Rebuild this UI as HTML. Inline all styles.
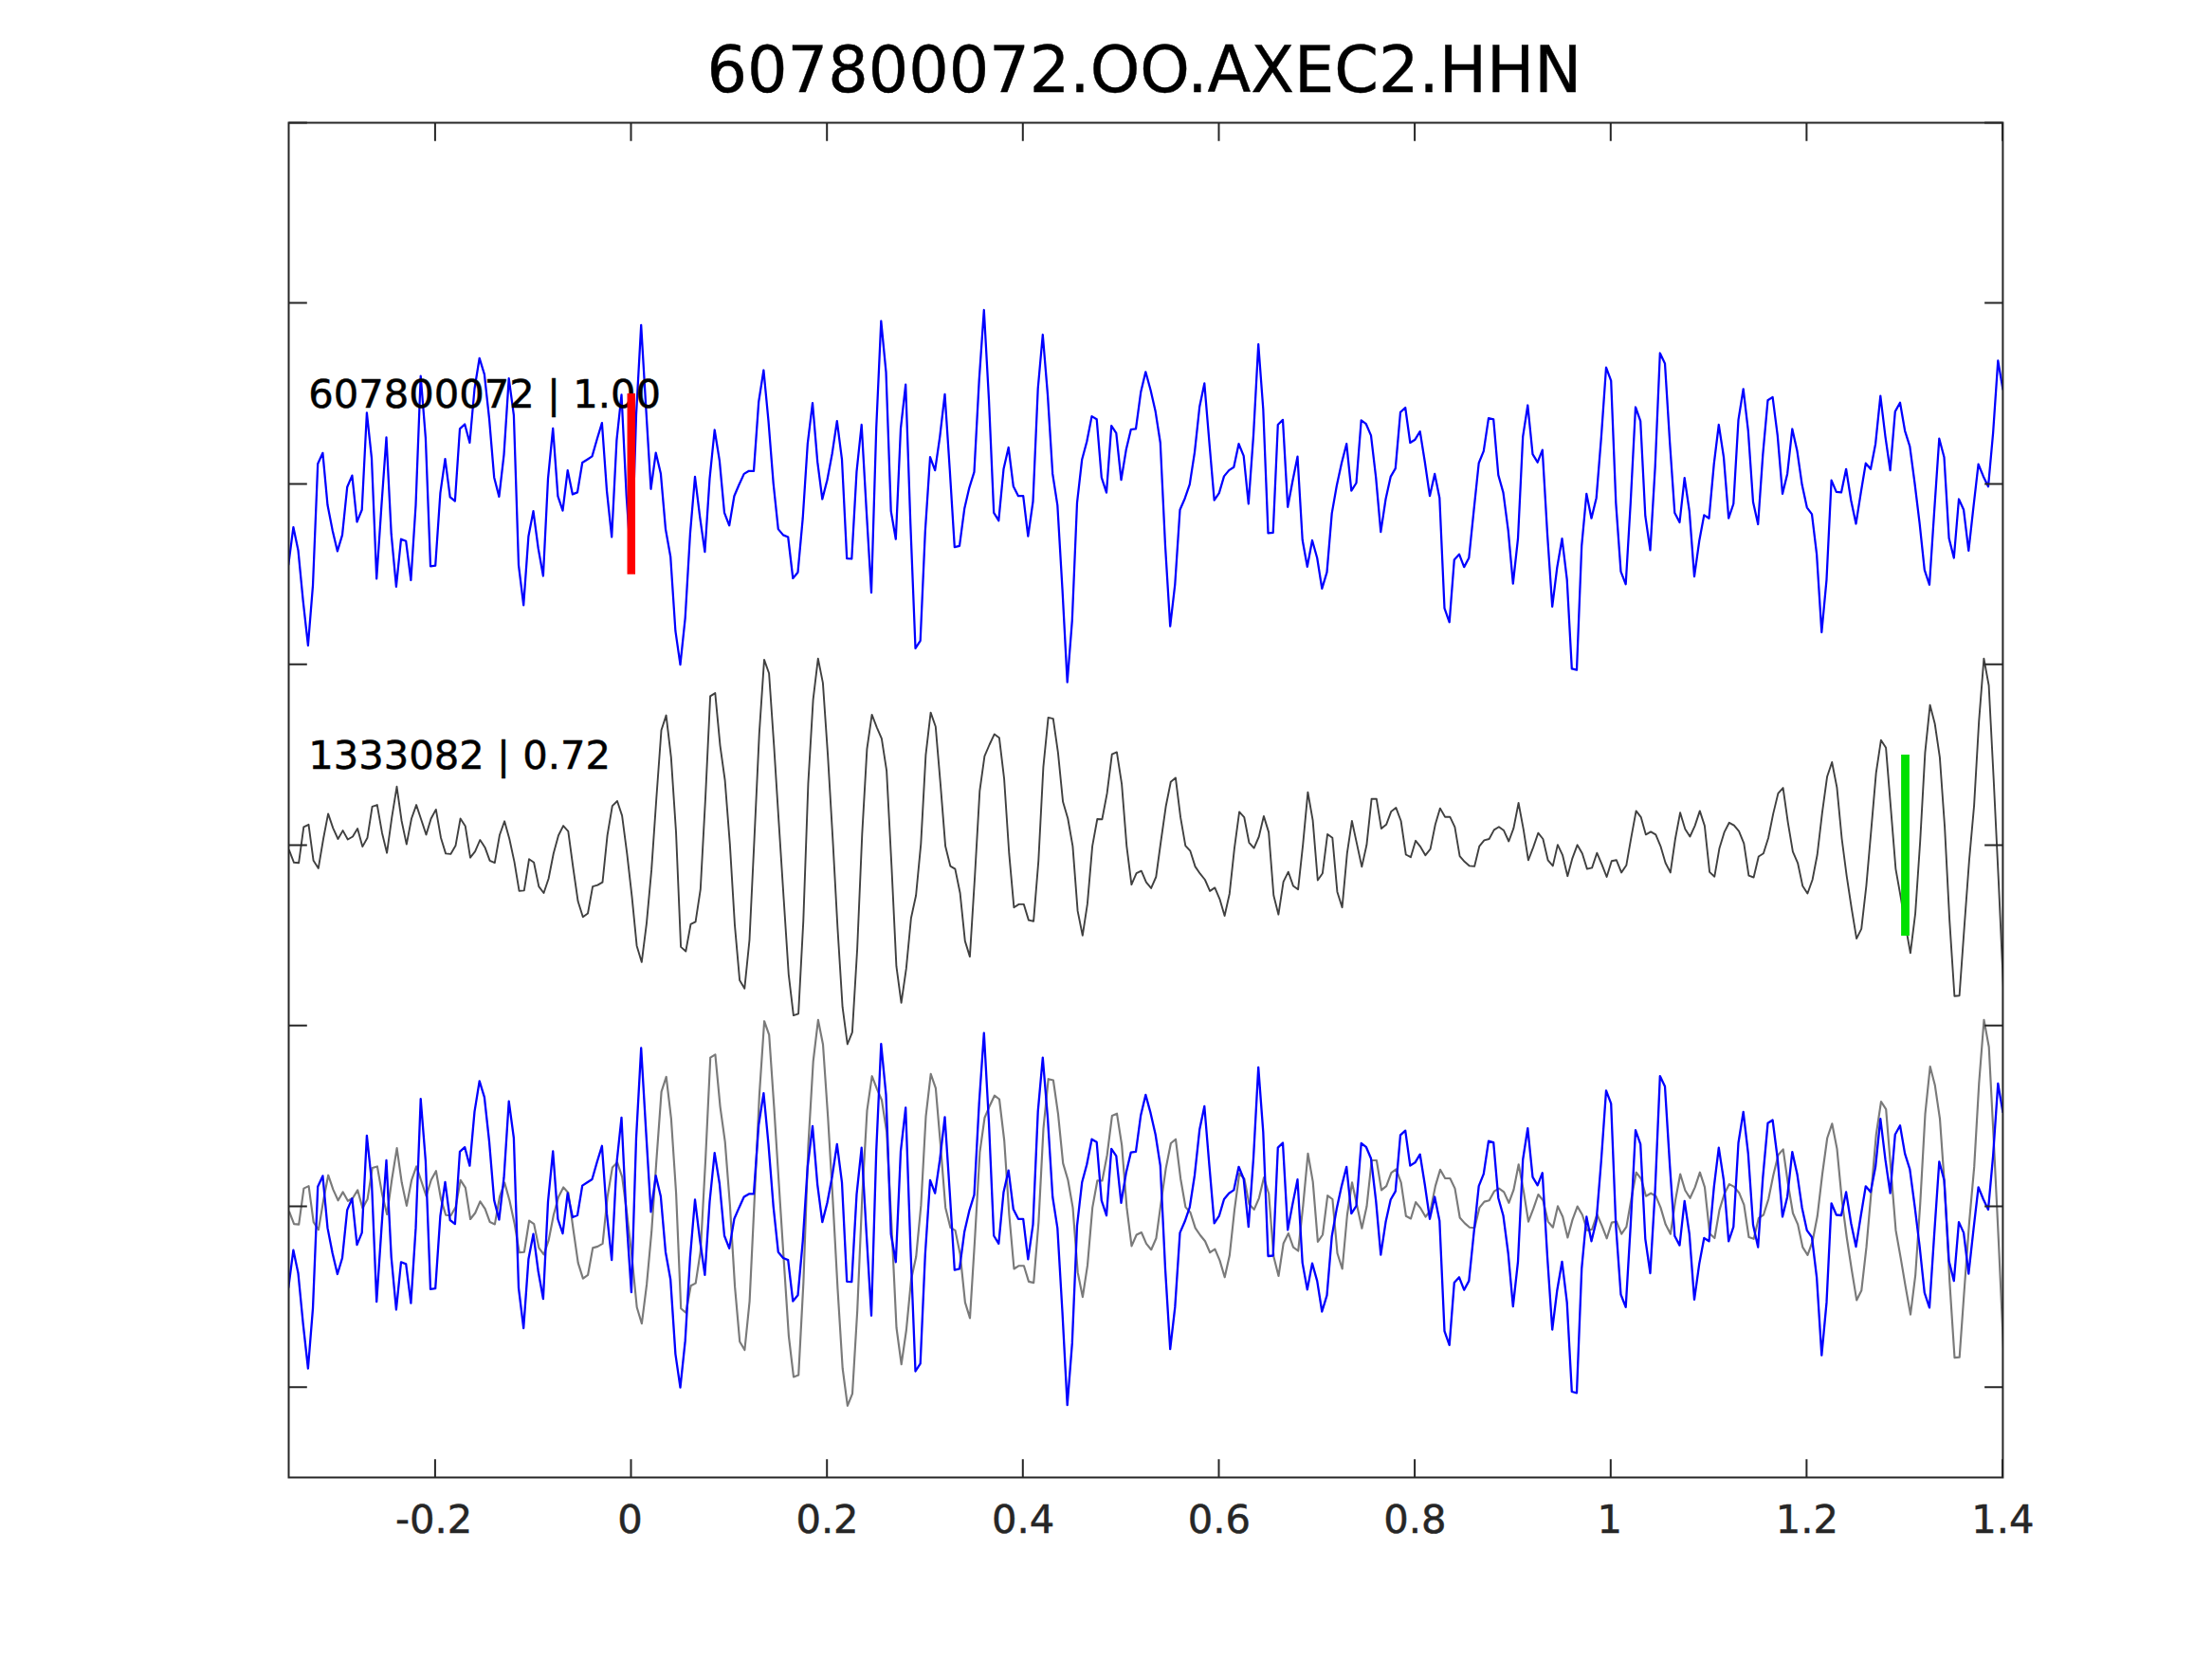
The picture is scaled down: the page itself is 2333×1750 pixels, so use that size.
<!DOCTYPE html>
<html lang="en"><head><meta charset="utf-8"><title>607800072.OO.AXEC2.HHN</title>
<style>
html,body{margin:0;padding:0;background:#fff;}
body{width:2333px;height:1750px;overflow:hidden;}
svg{display:block;}
text{font-family:"DejaVu Sans","Liberation Sans",sans-serif;}
.tk{font-size:41.67px;fill:#262626;stroke:#262626;stroke-width:0.5px;text-anchor:middle;}
.lb{font-size:41.67px;fill:#000;stroke:#000;stroke-width:0.5px;}
.ttl{font-size:66.88px;fill:#000;stroke:#000;stroke-width:0.4px;text-anchor:middle;}
.ax{stroke:#262626;stroke-width:2.0;fill:none;stroke-linecap:butt;}
.tr{fill:none;stroke-linejoin:round;stroke-linecap:butt;}
</style></head><body>
<svg width="2333" height="1750" viewBox="0 0 2333 1750">
<rect x="0" y="0" width="2333" height="1750" fill="#ffffff"/>
<clipPath id="c"><rect x="304.5" y="129.5" width="1807.9499999999998" height="1429.0"/></clipPath>

<g clip-path="url(#c)">
<polyline class="tr" stroke="#0000ff" stroke-width="2.25" points="304.2,596.1 309.4,556.1 314.5,580.4 319.7,634.1 324.9,680.9 330.0,617.6 335.2,489.2 340.4,477.8 345.5,532.8 350.7,559.4 355.9,581.4 361.0,564.4 366.2,513.8 371.4,501.6 376.5,550.5 381.7,537.8 386.9,435.3 392.0,483.4 397.2,610.5 402.4,532.8 407.5,461.4 412.7,563.2 417.9,618.9 423.0,568.7 428.2,570.8 433.4,612.0 438.5,532.8 443.7,396.6 448.9,461.9 454.0,597.3 459.2,596.6 464.4,520.1 469.5,484.2 474.7,524.4 479.9,528.5 485.0,452.3 490.2,447.5 495.4,467.0 500.5,410.0 505.7,377.8 510.9,394.8 516.0,441.6 521.2,503.7 526.4,523.9 531.5,479.6 536.7,399.1 541.9,437.8 547.0,596.1 552.2,638.4 557.4,565.7 562.5,539.1 567.7,578.4 572.9,607.5 578.0,504.9 583.2,451.8 588.4,523.4 593.5,538.6 598.7,496.1 603.9,521.4 609.0,519.4 614.2,488.0 619.4,484.7 624.5,481.4 629.7,463.2 634.9,446.2 640.0,517.6 645.2,566.5 650.4,464.4 655.5,416.3 660.7,522.7 665.9,600.6 671.0,437.8 676.2,342.9 681.4,431.5 686.5,515.8 691.7,477.6 696.9,499.4 702.0,558.1 707.2,587.2 712.4,665.7 717.5,701.1 722.7,651.8 727.9,563.2 733.0,502.9 738.2,545.4 743.4,582.2 748.5,504.9 753.7,453.5 758.9,485.9 764.0,540.9 769.2,554.3 774.4,523.2 779.5,511.3 784.7,499.9 789.9,496.8 795.0,496.8 800.2,423.9 805.4,390.5 810.5,444.2 815.7,510.0 820.8,558.1 826.0,564.4 831.2,566.5 836.3,610.0 841.5,603.7 846.7,546.7 851.8,468.2 857.0,425.2 862.2,487.2 867.3,526.5 872.5,506.2 877.7,478.4 882.8,444.2 888.0,484.7 893.2,589.2 898.3,589.5 903.5,497.3 908.7,448.0 913.8,537.8 919.0,625.2 924.2,451.8 929.3,338.6 934.5,392.3 939.7,539.1 944.8,568.7 950.0,451.8 955.2,405.7 960.3,553.0 965.5,683.9 970.7,675.8 975.8,560.6 981.0,482.2 986.2,496.1 991.3,460.6 996.5,415.8 1001.7,494.8 1006.8,577.1 1012.0,575.8 1017.2,536.6 1022.3,514.6 1027.5,497.8 1032.7,401.1 1037.8,327.0 1043.0,421.4 1048.2,540.9 1053.3,549.2 1058.5,494.8 1063.7,472.0 1068.8,513.0 1074.0,523.2 1079.2,523.2 1084.3,565.7 1089.5,529.0 1094.7,410.0 1099.8,353.0 1105.0,416.3 1110.2,499.9 1115.3,532.8 1120.5,621.4 1125.7,719.6 1130.8,654.3 1136.0,530.3 1141.2,484.7 1146.3,465.7 1151.5,439.1 1156.7,442.2 1161.8,503.7 1167.0,519.6 1172.2,449.2 1177.3,456.8 1182.5,506.2 1187.7,474.6 1192.8,453.0 1198.0,452.3 1203.2,413.8 1208.3,392.3 1213.5,411.3 1218.7,434.1 1223.8,467.0 1229.0,575.8 1234.2,660.6 1239.3,616.3 1244.5,537.8 1249.7,525.7 1254.8,510.8 1260.0,477.1 1265.2,429.0 1270.3,404.4 1275.5,467.0 1280.7,527.7 1285.8,520.1 1291.0,502.4 1296.2,496.1 1301.3,492.8 1306.5,468.2 1311.7,480.9 1316.8,531.5 1322.0,459.4 1327.2,363.2 1332.3,431.5 1337.5,562.4 1342.7,561.9 1347.8,448.0 1353.0,442.9 1358.2,534.8 1363.3,507.5 1368.5,481.6 1373.7,569.5 1378.8,597.8 1384.0,570.0 1389.2,588.5 1394.3,620.9 1399.5,603.7 1404.7,541.6 1409.8,512.5 1415.0,488.5 1420.2,468.2 1425.3,517.6 1430.5,509.5 1435.7,443.4 1440.8,447.2 1446.0,459.4 1451.2,503.7 1456.3,561.1 1461.5,526.5 1466.7,502.9 1471.8,494.1 1477.0,434.8 1482.2,430.0 1487.3,467.0 1492.5,463.7 1497.7,455.1 1502.8,487.2 1508.0,523.2 1513.2,499.9 1518.3,525.2 1523.5,641.6 1528.7,656.3 1533.8,590.5 1539.0,584.7 1544.2,598.1 1549.3,588.5 1554.5,537.8 1559.7,488.5 1564.8,475.8 1570.0,441.1 1575.2,442.4 1580.3,501.1 1585.5,519.6 1590.7,559.4 1595.8,615.6 1601.0,568.2 1606.2,460.6 1611.3,427.5 1616.5,479.1 1621.7,487.7 1626.8,474.6 1632.0,563.2 1637.2,639.9 1642.3,598.6 1647.5,568.2 1652.7,611.3 1657.8,705.4 1663.0,706.7 1668.2,575.8 1673.3,520.9 1678.5,546.7 1683.7,525.2 1688.8,461.9 1694.0,387.7 1699.2,401.6 1704.3,530.3 1709.5,602.9 1714.7,616.3 1719.8,530.3 1725.0,429.5 1730.2,444.2 1735.3,544.2 1740.5,580.4 1745.7,492.3 1750.8,372.5 1756.0,383.4 1761.2,467.0 1766.3,541.1 1771.5,551.0 1776.7,504.2 1781.8,539.1 1787.0,608.2 1792.2,570.8 1797.3,543.4 1802.5,546.7 1807.7,489.7 1812.8,448.0 1818.0,482.2 1823.2,546.7 1828.3,531.5 1833.5,442.9 1838.7,410.3 1843.8,454.3 1849.0,529.5 1854.2,553.0 1859.3,479.6 1864.5,422.2 1869.6,418.9 1874.8,459.4 1880.0,520.9 1885.1,499.9 1890.3,452.5 1895.5,475.8 1900.6,511.3 1905.8,535.3 1911.0,542.4 1916.1,584.7 1921.3,667.0 1926.5,611.3 1931.6,506.7 1936.8,518.9 1942.0,519.4 1947.1,494.8 1952.3,527.7 1957.5,552.5 1962.6,520.1 1967.8,488.7 1973.0,494.8 1978.1,468.2 1983.3,417.6 1988.5,460.6 1993.6,496.1 1998.8,434.1 2004.0,424.7 2009.1,454.3 2014.3,470.8 2019.5,510.0 2024.6,551.8 2029.8,601.1 2035.0,616.8 2040.1,539.1 2045.3,462.7 2050.5,482.2 2055.6,567.7 2060.8,588.5 2066.0,526.5 2071.1,537.8 2076.3,580.9 2081.5,534.1 2086.6,489.7 2091.8,502.4 2097.0,513.3 2102.1,456.8 2107.3,380.4 2112.5,411.3"/>
<polyline class="tr" stroke="#404040" stroke-width="1.9" points="304.8,896.4 310.0,909.8 315.1,910.3 320.3,872.3 325.5,869.8 330.6,907.8 335.8,915.9 341.0,885.0 346.1,858.4 351.3,873.6 356.5,885.0 361.6,876.1 366.8,885.5 372.0,882.5 377.1,874.1 382.3,893.1 387.5,883.7 392.6,850.8 397.8,849.1 403.0,878.7 408.1,899.7 413.3,862.2 418.5,829.8 423.6,866.0 428.8,890.6 434.0,863.5 439.1,849.1 444.3,864.7 449.5,880.4 454.6,863.5 459.8,853.9 465.0,883.7 470.1,900.4 475.3,900.9 480.5,892.1 485.6,863.5 490.8,871.6 496.0,904.7 501.1,898.2 506.3,886.0 511.5,893.9 516.6,907.8 521.8,910.1 527.0,880.7 532.1,866.3 537.3,885.0 542.5,909.1 547.6,939.9 552.8,939.4 558.0,906.3 563.1,909.8 568.3,935.1 573.5,942.0 578.6,926.8 583.8,900.2 589.0,881.2 594.1,871.1 599.3,876.9 604.5,915.4 609.6,950.8 614.8,967.3 620.0,963.5 625.1,935.1 630.3,933.6 635.5,930.6 640.6,881.2 645.8,850.1 651.0,845.0 656.1,860.4 661.3,900.2 666.5,945.8 671.6,997.7 676.8,1014.9 682.0,973.6 687.1,917.9 692.3,842.0 697.5,770.3 702.6,754.6 707.8,798.9 713.0,877.4 718.1,998.9 723.3,1003.5 728.5,974.9 733.6,972.3 738.8,938.2 744.0,842.0 749.1,734.4 754.3,731.1 759.5,786.3 764.6,823.0 769.8,890.1 775.0,976.1 780.1,1033.9 785.3,1042.7 790.5,991.3 795.6,885.0 800.8,773.6 806.0,695.9 811.1,710.3 816.3,786.3 821.4,867.3 826.6,948.3 831.8,1028.0 836.9,1071.1 842.1,1069.3 847.3,971.1 852.4,826.8 857.6,738.2 862.8,694.6 867.9,720.4 873.1,796.4 878.3,885.0 883.4,978.7 888.6,1062.2 893.8,1101.5 898.9,1088.8 904.1,1001.5 909.3,879.9 914.4,790.1 919.6,753.9 924.8,767.3 929.9,779.2 935.1,812.8 940.3,912.8 945.4,1019.2 950.6,1057.9 955.8,1021.7 960.9,968.5 966.1,944.5 971.3,890.1 976.4,796.4 981.6,751.6 986.8,766.5 991.9,826.8 997.1,892.6 1002.3,913.6 1007.4,916.6 1012.6,942.0 1017.8,992.6 1022.9,1009.1 1028.1,925.5 1033.3,834.4 1038.4,797.7 1043.6,785.5 1048.8,774.4 1053.9,778.2 1059.1,821.7 1064.3,900.2 1069.4,957.2 1074.6,953.9 1079.8,953.9 1084.9,970.6 1090.1,971.8 1095.3,907.8 1100.4,809.1 1105.6,756.9 1110.8,758.2 1115.9,793.9 1121.1,845.8 1126.3,863.5 1131.4,892.6 1136.6,960.9 1141.8,986.8 1146.9,953.4 1152.1,892.6 1157.3,864.0 1162.4,864.2 1167.6,836.9 1172.8,795.6 1177.9,793.4 1183.1,826.8 1188.3,892.6 1193.4,933.1 1198.6,921.2 1203.8,918.7 1208.9,930.6 1214.1,936.9 1219.3,925.0 1224.4,887.5 1229.6,850.8 1234.8,824.7 1239.9,820.4 1245.1,862.2 1250.3,892.1 1255.4,897.7 1260.6,914.1 1265.8,921.7 1270.9,928.0 1276.1,939.9 1281.3,936.4 1286.4,948.3 1291.6,966.0 1296.8,942.7 1301.9,895.1 1307.1,856.4 1312.3,862.2 1317.4,888.8 1322.6,894.6 1327.8,882.5 1332.9,860.9 1338.1,877.9 1343.3,944.5 1348.4,964.7 1353.6,930.1 1358.8,919.7 1363.9,934.4 1369.1,938.2 1374.3,890.1 1379.4,835.6 1384.6,865.3 1389.8,928.5 1394.9,921.2 1400.1,879.9 1405.3,883.7 1410.4,940.7 1415.6,957.2 1420.8,900.2 1425.9,866.0 1431.1,890.1 1436.3,914.4 1441.4,891.3 1446.6,842.7 1451.8,842.7 1456.9,874.1 1462.1,869.8 1467.3,855.9 1472.4,852.1 1477.6,866.0 1482.8,901.5 1487.9,904.2 1493.1,886.8 1498.3,893.4 1503.4,902.2 1508.6,895.6 1513.8,869.8 1518.9,852.6 1524.1,861.7 1529.3,861.7 1534.4,872.3 1539.6,903.2 1544.8,909.1 1549.9,913.4 1555.1,913.9 1560.3,892.6 1565.4,886.3 1570.6,885.0 1575.8,875.4 1580.9,872.3 1586.1,876.1 1591.3,887.5 1596.4,873.6 1601.6,847.0 1606.8,874.9 1611.9,907.3 1617.1,893.9 1622.3,878.7 1627.4,885.0 1632.6,907.3 1637.8,913.4 1642.9,891.1 1648.1,902.2 1653.3,924.2 1658.4,905.3 1663.6,891.3 1668.8,900.2 1673.9,916.6 1679.1,915.4 1684.3,899.7 1689.4,911.6 1694.6,925.0 1699.8,908.3 1704.9,907.3 1710.1,920.4 1715.3,912.8 1720.4,883.7 1725.6,855.4 1730.8,862.2 1735.9,880.4 1741.1,877.4 1746.3,880.4 1751.4,892.6 1756.6,910.3 1761.8,920.4 1766.9,885.0 1772.1,857.2 1777.3,874.4 1782.4,882.5 1787.6,871.1 1792.8,855.4 1797.9,871.1 1803.1,919.9 1808.3,924.7 1813.4,895.1 1818.6,877.9 1823.8,867.8 1828.9,870.6 1834.1,876.9 1839.3,889.6 1844.4,923.7 1849.6,925.5 1854.8,903.5 1859.9,900.2 1865.1,883.7 1870.2,858.4 1875.4,836.9 1880.6,831.1 1885.7,867.3 1890.9,898.4 1896.1,910.3 1901.2,934.4 1906.4,942.5 1911.6,928.0 1916.7,901.5 1921.9,857.2 1927.1,819.2 1932.2,804.0 1937.4,830.6 1942.6,885.0 1947.7,924.2 1952.9,958.4 1958.1,990.1 1963.2,979.9 1968.4,934.4 1973.6,874.9 1978.7,815.4 1983.9,780.7 1989.1,788.8 1994.2,852.1 1999.4,916.6 2004.6,945.8 2009.7,976.1 2014.9,1005.3 2020.1,963.5 2025.2,887.5 2030.4,793.9 2035.6,743.7 2040.7,763.5 2045.9,798.9 2051.1,872.3 2056.2,971.1 2061.4,1050.8 2066.6,1050.3 2071.7,978.7 2076.9,907.8 2082.1,849.6 2087.2,760.9 2092.4,694.6 2097.6,723.0 2102.7,821.7 2107.9,929.3 2113.1,1044.5"/>
<polyline class="tr" stroke="#7a7a7a" stroke-width="2.15" points="304.9,1277.7 310.1,1291.1 315.2,1291.6 320.4,1253.6 325.6,1251.1 330.7,1289.1 335.9,1297.2 341.1,1266.3 346.2,1239.7 351.4,1254.9 356.6,1266.3 361.7,1257.4 366.9,1266.8 372.1,1263.8 377.2,1255.4 382.4,1274.4 387.6,1265.0 392.7,1232.1 397.9,1230.4 403.1,1260.0 408.2,1281.0 413.4,1243.5 418.6,1211.1 423.7,1247.3 428.9,1271.9 434.1,1244.8 439.2,1230.4 444.4,1246.0 449.6,1261.7 454.7,1244.8 459.9,1235.2 465.1,1265.0 470.2,1281.7 475.4,1282.2 480.6,1273.4 485.7,1244.8 490.9,1252.9 496.1,1286.0 501.2,1279.5 506.4,1267.3 511.6,1275.2 516.7,1289.1 521.9,1291.4 527.1,1262.0 532.2,1247.6 537.4,1266.3 542.6,1290.4 547.7,1321.2 552.9,1320.7 558.1,1287.6 563.2,1291.1 568.4,1316.4 573.6,1323.3 578.7,1308.1 583.9,1281.5 589.1,1262.5 594.2,1252.4 599.4,1258.2 604.6,1296.7 609.7,1332.1 614.9,1348.6 620.1,1344.8 625.2,1316.4 630.4,1314.9 635.6,1311.9 640.7,1262.5 645.9,1231.4 651.1,1226.3 656.2,1241.7 661.4,1281.5 666.6,1327.1 671.7,1379.0 676.9,1396.2 682.1,1354.9 687.2,1299.2 692.4,1223.3 697.6,1151.6 702.7,1135.9 707.9,1180.2 713.1,1258.7 718.2,1380.2 723.4,1384.8 728.6,1356.2 733.7,1353.6 738.9,1319.5 744.1,1223.3 749.2,1115.7 754.4,1112.4 759.6,1167.6 764.7,1204.3 769.9,1271.4 775.1,1357.4 780.2,1415.2 785.4,1424.0 790.6,1372.6 795.7,1266.3 800.9,1154.9 806.1,1077.2 811.2,1091.6 816.4,1167.6 821.5,1248.6 826.7,1329.6 831.9,1409.3 837.0,1452.4 842.2,1450.6 847.4,1352.4 852.5,1208.1 857.7,1119.5 862.9,1075.9 868.0,1101.7 873.2,1177.7 878.4,1266.3 883.5,1360.0 888.7,1443.5 893.9,1482.8 899.0,1470.1 904.2,1382.8 909.4,1261.2 914.5,1171.4 919.7,1135.2 924.9,1148.6 930.0,1160.5 935.2,1194.1 940.4,1294.1 945.5,1400.5 950.7,1439.2 955.9,1403.0 961.0,1349.8 966.2,1325.8 971.4,1271.4 976.5,1177.7 981.7,1132.9 986.9,1147.8 992.0,1208.1 997.2,1273.9 1002.4,1294.9 1007.5,1297.9 1012.7,1323.3 1017.9,1373.9 1023.0,1390.4 1028.2,1306.8 1033.4,1215.7 1038.5,1179.0 1043.7,1166.8 1048.9,1155.7 1054.0,1159.5 1059.2,1203.0 1064.4,1281.5 1069.5,1338.5 1074.7,1335.2 1079.9,1335.2 1085.0,1351.9 1090.2,1353.1 1095.4,1289.1 1100.5,1190.4 1105.7,1138.2 1110.9,1139.5 1116.0,1175.2 1121.2,1227.1 1126.4,1244.8 1131.5,1273.9 1136.7,1342.2 1141.9,1368.1 1147.0,1334.7 1152.2,1273.9 1157.4,1245.3 1162.5,1245.5 1167.7,1218.2 1172.9,1176.9 1178.0,1174.7 1183.2,1208.1 1188.4,1273.9 1193.5,1314.4 1198.7,1302.5 1203.9,1300.0 1209.0,1311.9 1214.2,1318.2 1219.4,1306.3 1224.5,1268.8 1229.7,1232.1 1234.9,1206.0 1240.0,1201.7 1245.2,1243.5 1250.4,1273.4 1255.5,1279.0 1260.7,1295.4 1265.9,1303.0 1271.0,1309.3 1276.2,1321.2 1281.4,1317.7 1286.5,1329.6 1291.7,1347.3 1296.9,1324.0 1302.0,1276.4 1307.2,1237.7 1312.4,1243.5 1317.5,1270.1 1322.7,1275.9 1327.9,1263.8 1333.0,1242.2 1338.2,1259.2 1343.4,1325.8 1348.5,1346.0 1353.7,1311.4 1358.9,1301.0 1364.0,1315.7 1369.2,1319.5 1374.4,1271.4 1379.5,1216.9 1384.7,1246.6 1389.9,1309.8 1395.0,1302.5 1400.2,1261.2 1405.4,1265.0 1410.5,1322.0 1415.7,1338.5 1420.9,1281.5 1426.0,1247.3 1431.2,1271.4 1436.4,1295.7 1441.5,1272.6 1446.7,1224.0 1451.9,1224.0 1457.0,1255.4 1462.2,1251.1 1467.4,1237.2 1472.5,1233.4 1477.7,1247.3 1482.9,1282.8 1488.0,1285.5 1493.2,1268.1 1498.4,1274.7 1503.5,1283.5 1508.7,1276.9 1513.9,1251.1 1519.0,1233.9 1524.2,1243.0 1529.4,1243.0 1534.5,1253.6 1539.7,1284.5 1544.9,1290.4 1550.0,1294.7 1555.2,1295.2 1560.4,1273.9 1565.5,1267.6 1570.7,1266.3 1575.9,1256.7 1581.0,1253.6 1586.2,1257.4 1591.4,1268.8 1596.5,1254.9 1601.7,1228.3 1606.9,1256.2 1612.0,1288.6 1617.2,1275.2 1622.4,1260.0 1627.5,1266.3 1632.7,1288.6 1637.9,1294.7 1643.0,1272.4 1648.2,1283.5 1653.4,1305.5 1658.5,1286.6 1663.7,1272.6 1668.9,1281.5 1674.0,1297.9 1679.2,1296.7 1684.4,1281.0 1689.5,1292.9 1694.7,1306.3 1699.9,1289.6 1705.0,1288.6 1710.2,1301.7 1715.4,1294.1 1720.5,1265.0 1725.7,1236.7 1730.9,1243.5 1736.0,1261.7 1741.2,1258.7 1746.4,1261.7 1751.5,1273.9 1756.7,1291.6 1761.9,1301.7 1767.0,1266.3 1772.2,1238.5 1777.4,1255.7 1782.5,1263.8 1787.7,1252.4 1792.9,1236.7 1798.0,1252.4 1803.2,1301.2 1808.4,1306.0 1813.5,1276.4 1818.7,1259.2 1823.9,1249.1 1829.0,1251.9 1834.2,1258.2 1839.4,1270.9 1844.5,1305.0 1849.7,1306.8 1854.9,1284.8 1860.0,1281.5 1865.2,1265.0 1870.3,1239.7 1875.5,1218.2 1880.7,1212.4 1885.8,1248.6 1891.0,1279.7 1896.2,1291.6 1901.3,1315.7 1906.5,1323.8 1911.7,1309.3 1916.8,1282.8 1922.0,1238.5 1927.2,1200.5 1932.3,1185.3 1937.5,1211.9 1942.7,1266.3 1947.8,1305.5 1953.0,1339.7 1958.2,1371.4 1963.3,1361.2 1968.5,1315.7 1973.7,1256.2 1978.8,1196.7 1984.0,1162.0 1989.2,1170.1 1994.3,1233.4 1999.5,1297.9 2004.7,1327.1 2009.8,1357.4 2015.0,1386.6 2020.2,1344.8 2025.3,1268.8 2030.5,1175.2 2035.7,1125.0 2040.8,1144.8 2046.0,1180.2 2051.2,1253.6 2056.3,1352.4 2061.5,1432.1 2066.7,1431.6 2071.8,1360.0 2077.0,1289.1 2082.2,1230.9 2087.3,1142.2 2092.5,1075.9 2097.7,1104.3 2102.8,1203.0 2108.0,1310.6 2113.2,1425.8"/>
<polyline class="tr" stroke="#0000ff" stroke-width="2.3" points="304.2,1358.7 309.4,1318.7 314.5,1343.0 319.7,1396.7 324.9,1443.5 330.0,1380.2 335.2,1251.8 340.4,1240.4 345.5,1295.4 350.7,1322.0 355.9,1344.0 361.0,1327.0 366.2,1276.4 371.4,1264.2 376.5,1313.1 381.7,1300.4 386.9,1197.9 392.0,1246.0 397.2,1373.1 402.4,1295.4 407.5,1224.0 412.7,1325.8 417.9,1381.5 423.0,1331.3 428.2,1333.4 433.4,1374.6 438.5,1295.4 443.7,1159.2 448.9,1224.5 454.0,1359.9 459.2,1359.2 464.4,1282.7 469.5,1246.8 474.7,1287.0 479.9,1291.1 485.0,1214.9 490.2,1210.1 495.4,1229.6 500.5,1172.6 505.7,1140.4 510.9,1157.4 516.0,1204.2 521.2,1266.3 526.4,1286.5 531.5,1242.2 536.7,1161.7 541.9,1200.4 547.0,1358.7 552.2,1401.0 557.4,1328.3 562.5,1301.7 567.7,1341.0 572.9,1370.1 578.0,1267.5 583.2,1214.4 588.4,1286.0 593.5,1301.2 598.7,1258.7 603.9,1284.0 609.0,1282.0 614.2,1250.6 619.4,1247.3 624.5,1244.0 629.7,1225.8 634.9,1208.8 640.0,1280.2 645.2,1329.1 650.4,1227.0 655.5,1178.9 660.7,1285.3 665.9,1363.2 671.0,1200.4 676.2,1105.5 681.4,1194.1 686.5,1278.4 691.7,1240.2 696.9,1262.0 702.0,1320.7 707.2,1349.8 712.4,1428.3 717.5,1463.7 722.7,1414.4 727.9,1325.8 733.0,1265.5 738.2,1308.0 743.4,1344.8 748.5,1267.5 753.7,1216.1 758.9,1248.5 764.0,1303.5 769.2,1316.9 774.4,1285.8 779.5,1273.9 784.7,1262.5 789.9,1259.4 795.0,1259.4 800.2,1186.5 805.4,1153.1 810.5,1206.8 815.7,1272.6 820.8,1320.7 826.0,1327.0 831.2,1329.1 836.3,1372.6 841.5,1366.3 846.7,1309.3 851.8,1230.8 857.0,1187.8 862.2,1249.8 867.3,1289.1 872.5,1268.8 877.7,1241.0 882.8,1206.8 888.0,1247.3 893.2,1351.8 898.3,1352.1 903.5,1259.9 908.7,1210.6 913.8,1300.4 919.0,1387.8 924.2,1214.4 929.3,1101.2 934.5,1154.9 939.7,1301.7 944.8,1331.3 950.0,1214.4 955.2,1168.3 960.3,1315.6 965.5,1446.5 970.7,1438.4 975.8,1323.2 981.0,1244.8 986.2,1258.7 991.3,1223.2 996.5,1178.4 1001.7,1257.4 1006.8,1339.7 1012.0,1338.4 1017.2,1299.2 1022.3,1277.2 1027.5,1260.4 1032.7,1163.7 1037.8,1089.6 1043.0,1184.0 1048.2,1303.5 1053.3,1311.8 1058.5,1257.4 1063.7,1234.6 1068.8,1275.6 1074.0,1285.8 1079.2,1285.8 1084.3,1328.3 1089.5,1291.6 1094.7,1172.6 1099.8,1115.6 1105.0,1178.9 1110.2,1262.5 1115.3,1295.4 1120.5,1384.0 1125.7,1482.2 1130.8,1416.9 1136.0,1292.9 1141.2,1247.3 1146.3,1228.3 1151.5,1201.7 1156.7,1204.8 1161.8,1266.3 1167.0,1282.2 1172.2,1211.8 1177.3,1219.4 1182.5,1268.8 1187.7,1237.2 1192.8,1215.6 1198.0,1214.9 1203.2,1176.4 1208.3,1154.9 1213.5,1173.9 1218.7,1196.7 1223.8,1229.6 1229.0,1338.4 1234.2,1423.2 1239.3,1378.9 1244.5,1300.4 1249.7,1288.3 1254.8,1273.4 1260.0,1239.7 1265.2,1191.6 1270.3,1167.0 1275.5,1229.6 1280.7,1290.3 1285.8,1282.7 1291.0,1265.0 1296.2,1258.7 1301.3,1255.4 1306.5,1230.8 1311.7,1243.5 1316.8,1294.1 1322.0,1222.0 1327.2,1125.8 1332.3,1194.1 1337.5,1325.0 1342.7,1324.5 1347.8,1210.6 1353.0,1205.5 1358.2,1297.4 1363.3,1270.1 1368.5,1244.2 1373.7,1332.1 1378.8,1360.4 1384.0,1332.6 1389.2,1351.1 1394.3,1383.5 1399.5,1366.3 1404.7,1304.2 1409.8,1275.1 1415.0,1251.1 1420.2,1230.8 1425.3,1280.2 1430.5,1272.1 1435.7,1206.0 1440.8,1209.8 1446.0,1222.0 1451.2,1266.3 1456.3,1323.7 1461.5,1289.1 1466.7,1265.5 1471.8,1256.7 1477.0,1197.4 1482.2,1192.6 1487.3,1229.6 1492.5,1226.3 1497.7,1217.7 1502.8,1249.8 1508.0,1285.8 1513.2,1262.5 1518.3,1287.8 1523.5,1404.2 1528.7,1418.9 1533.8,1353.1 1539.0,1347.3 1544.2,1360.7 1549.3,1351.1 1554.5,1300.4 1559.7,1251.1 1564.8,1238.4 1570.0,1203.7 1575.2,1205.0 1580.3,1263.7 1585.5,1282.2 1590.7,1322.0 1595.8,1378.2 1601.0,1330.8 1606.2,1223.2 1611.3,1190.1 1616.5,1241.7 1621.7,1250.3 1626.8,1237.2 1632.0,1325.8 1637.2,1402.5 1642.3,1361.2 1647.5,1330.8 1652.7,1373.9 1657.8,1468.0 1663.0,1469.3 1668.2,1338.4 1673.3,1283.5 1678.5,1309.3 1683.7,1287.8 1688.8,1224.5 1694.0,1150.3 1699.2,1164.2 1704.3,1292.9 1709.5,1365.5 1714.7,1378.9 1719.8,1292.9 1725.0,1192.1 1730.2,1206.8 1735.3,1306.8 1740.5,1343.0 1745.7,1254.9 1750.8,1135.1 1756.0,1146.0 1761.2,1229.6 1766.3,1303.7 1771.5,1313.6 1776.7,1266.8 1781.8,1301.7 1787.0,1370.8 1792.2,1333.4 1797.3,1306.0 1802.5,1309.3 1807.7,1252.3 1812.8,1210.6 1818.0,1244.8 1823.2,1309.3 1828.3,1294.1 1833.5,1205.5 1838.7,1172.9 1843.8,1216.9 1849.0,1292.1 1854.2,1315.6 1859.3,1242.2 1864.5,1184.8 1869.6,1181.5 1874.8,1222.0 1880.0,1283.5 1885.1,1262.5 1890.3,1215.1 1895.5,1238.4 1900.6,1273.9 1905.8,1297.9 1911.0,1305.0 1916.1,1347.3 1921.3,1429.6 1926.5,1373.9 1931.6,1269.3 1936.8,1281.5 1942.0,1282.0 1947.1,1257.4 1952.3,1290.3 1957.5,1315.1 1962.6,1282.7 1967.8,1251.3 1973.0,1257.4 1978.1,1230.8 1983.3,1180.2 1988.5,1223.2 1993.6,1258.7 1998.8,1196.7 2004.0,1187.3 2009.1,1216.9 2014.3,1233.4 2019.5,1272.6 2024.6,1314.4 2029.8,1363.7 2035.0,1379.4 2040.1,1301.7 2045.3,1225.3 2050.5,1244.8 2055.6,1330.3 2060.8,1351.1 2066.0,1289.1 2071.1,1300.4 2076.3,1343.5 2081.5,1296.7 2086.6,1252.3 2091.8,1265.0 2097.0,1275.9 2102.1,1219.4 2107.3,1143.0 2112.5,1173.9"/>
<text class="lb" x="325.2" y="429.8">607800072 | 1.00</text>
<text class="lb" x="325.2" y="811">1333082 | 0.72</text>
<line x1="665.78" y1="415.0" x2="665.78" y2="605.75" stroke="#ff0000" stroke-width="8.5"/>
<line x1="2009.5" y1="795.9" x2="2009.5" y2="986.9" stroke="#00e000" stroke-width="8.8"/>
</g>
<rect class="ax" x="304.5" y="129.5" width="1807.9" height="1429.0"/>
<path class="ax" d="M458.9 1558.5V1539.2M458.9 129.5V148.8M665.5 1558.5V1539.2M665.5 129.5V148.8M872.2 1558.5V1539.2M872.2 129.5V148.8M1078.8 1558.5V1539.2M1078.8 129.5V148.8M1285.5 1558.5V1539.2M1285.5 129.5V148.8M1492.1 1558.5V1539.2M1492.1 129.5V148.8M1698.8 1558.5V1539.2M1698.8 129.5V148.8M1905.4 1558.5V1539.2M1905.4 129.5V148.8M2112.0 1558.5V1539.2M2112.0 129.5V148.8M304.5 129.5H323.8M2112.45 129.5H2093.1499999999996M304.5 319.5H323.8M2112.45 319.5H2093.1499999999996M304.5 510.4H323.8M2112.45 510.4H2093.1499999999996M304.5 700.7H323.8M2112.45 700.7H2093.1499999999996M304.5 891.4H323.8M2112.45 891.4H2093.1499999999996M304.5 1081.7H323.8M2112.45 1081.7H2093.1499999999996M304.5 1272.4H323.8M2112.45 1272.4H2093.1499999999996M304.5 1463.3H323.8M2112.45 1463.3H2093.1499999999996"/>
<text class="tk" x="457.7" y="1617">-0.2</text>
<text class="tk" x="664.4" y="1617">0</text>
<text class="tk" x="872.5" y="1617">0.2</text>
<text class="tk" x="1079.1" y="1617">0.4</text>
<text class="tk" x="1285.8" y="1617">0.6</text>
<text class="tk" x="1492.4" y="1617">0.8</text>
<text class="tk" x="1697.7" y="1617">1</text>
<text class="tk" x="1905.8" y="1617">1.2</text>
<text class="tk" x="2112.4" y="1617">1.4</text>
<text class="ttl" x="1206.9" y="96.8">607800072.OO.AXEC2.HHN</text>
</svg></body></html>
